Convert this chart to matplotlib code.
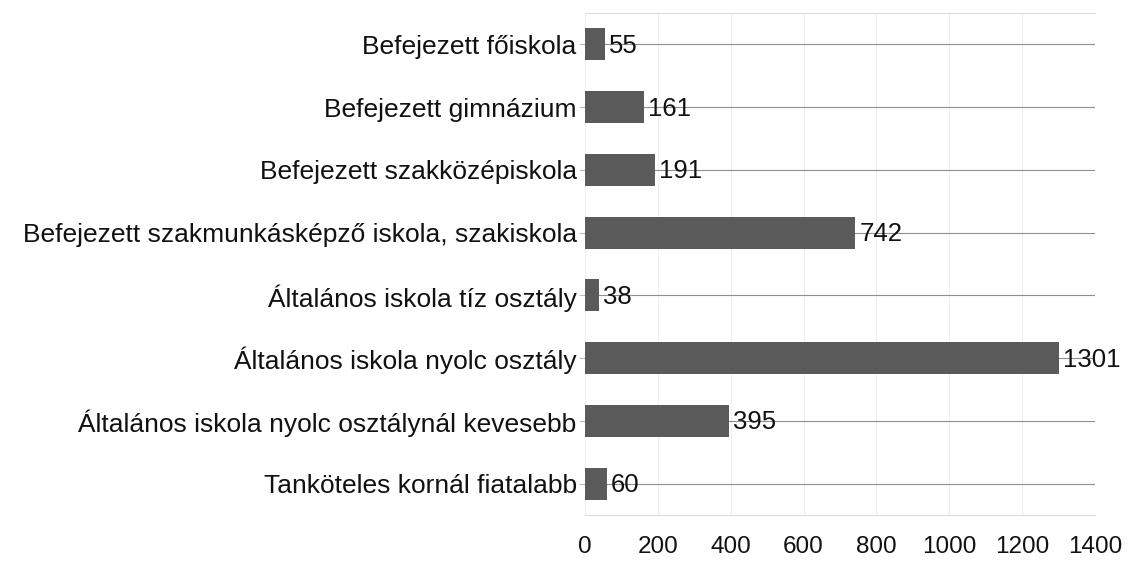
import matplotlib
matplotlib.use("Agg")
import matplotlib.pyplot as plt

categories = [
    "Befejezett főiskola",
    "Befejezett gimnázium",
    "Befejezett szakközépiskola",
    "Befejezett szakmunkásképző iskola, szakiskola",
    "Általános iskola tíz osztály",
    "Általános iskola nyolc osztály",
    "Általános iskola nyolc osztálynál kevesebb",
    "Tanköteles kornál fiatalabb",
]
values = [55, 161, 191, 742, 38, 1301, 395, 60]
xticks = [0, 200, 400, 600, 800, 1000, 1200, 1400]

plt.rcParams['font.family'] = ['Liberation Sans', 'DejaVu Sans']

fig = plt.figure(figsize=(11.3, 5.63), dpi=100)
ax = fig.add_axes([585/1130, 1 - 515/563, 510/1130, 502/563])

pos = list(range(len(categories)))
ax.set_axisbelow(True)
ax.grid(axis='y', color='#8f8f8f', linewidth=0.8)
ax.grid(axis='x', color='#f0f0f0', linewidth=0.8)
ax.barh(pos, values, height=0.51, color='#5a5a5a', zorder=2)

for p, v in zip(pos, values):
    ax.annotate(str(v), xy=(v, p), xytext=(3, -1), textcoords='offset points',
                va='center', ha='left', fontsize=18.5, color='#111111', zorder=3)

ax.set_xlim(0, 1400)
ax.set_ylim(len(categories) - 0.5, -0.5)
ax.set_yticks(pos)
ax.set_yticklabels(categories, fontsize=19, color='#111111')
ax.set_xticks(xticks)
ax.set_xticklabels([str(t) for t in xticks], fontsize=17.5, color='#111111')
ax.tick_params(axis='y', length=4, color='#bbbbbb', pad=2)
ax.tick_params(axis='x', length=0, pad=15)
for s in ['left', 'right']:
    ax.spines[s].set_visible(False)
for s in ['top', 'bottom']:
    ax.spines[s].set_color('#dddddd')
    ax.spines[s].set_linewidth(0.8)

fig.savefig("out.png", dpi=100, facecolor='white')
